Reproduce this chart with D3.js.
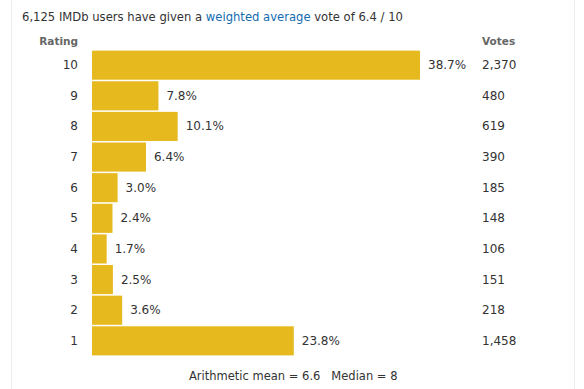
<!DOCTYPE html>
<html lang="en">
<head>
    <meta charset="UTF-8">
    <title>IMDb rating histogram</title>
    <script src="https://d3js.org/d3.v7.min.js"></script>
    <style>
        body { margin: 0; background: #fff; }
        text { font-family: Verdana, "DejaVu Sans", sans-serif; }
    </style>
</head>
<body>
    <svg id="chart" width="584" height="389"></svg>

    <script>
        // data
        const ratings = [10, 9, 8, 7, 6, 5, 4, 3, 2, 1];
        const votes = [2370, 480, 619, 390, 185, 148, 106, 151, 218, 1458];
        const percents = ["38.7%", "7.8%", "10.1%", "6.4%", "3.0%", "2.4%", "1.7%", "2.5%", "3.6%", "23.8%"];
        const totalVotes = "6,125";
        const weightedAvg = "6.4";
        const mean = "6.6";
        const median = "8";

        const rows = ratings.map((r, i) => ({ rating: r, votes: votes[i], pct: percents[i] }));

        const svg = d3.select("#chart");

        // faint page borders
        svg.append("line").attr("x1", 11.5).attr("x2", 11.5).attr("y1", 0).attr("y2", 389)
            .attr("stroke", "#ececec");
        svg.append("line").attr("x1", 574.5).attr("x2", 574.5).attr("y1", 0).attr("y2", 389)
            .attr("stroke", "#ececec");

        const x = d3.scaleLinear().domain([0, d3.max(votes)]).range([92, 420]);
        const y = d3.scaleBand().domain(ratings).range([50, 356]).paddingInner(0.05).paddingOuter(0.02);

        // title
        const title = svg.append("text").attr("x", 22).attr("y", 21)
            .attr("font-size", 11.6).attr("fill", "#333");
        title.append("tspan").text(totalVotes + " IMDb users have given a ");
        title.append("tspan").attr("fill", "#136cb2").text("weighted average");
        title.append("tspan").text(" vote of " + weightedAvg + " / 10");

        // headers
        svg.append("text").attr("x", 78).attr("y", 45).attr("text-anchor", "end")
            .attr("font-size", 10.5).attr("font-weight", "bold").attr("fill", "#666").text("Rating");
        svg.append("text").attr("x", 482).attr("y", 45)
            .attr("font-size", 10.5).attr("font-weight", "bold").attr("fill", "#666").text("Votes");

        const row = svg.selectAll("g.row").data(rows).enter().append("g").attr("class", "row");

        row.append("rect")
            .attr("x", x(0))
            .attr("y", d => y(d.rating))
            .attr("width", d => x(d.votes) - x(0))
            .attr("height", y.bandwidth())
            .attr("fill", "#e6b91e");

        const mid = d => y(d.rating) + y.bandwidth() / 2 + 4;

        row.append("text")
            .attr("x", 78).attr("y", mid).attr("text-anchor", "end")
            .attr("font-size", 12).attr("fill", "#333")
            .text(d => d.rating);

        row.append("text")
            .attr("x", d => x(d.votes) + 8).attr("y", mid)
            .attr("font-size", 12).attr("fill", "#333")
            .text(d => d.pct);

        row.append("text")
            .attr("x", 482).attr("y", mid)
            .attr("font-size", 12).attr("fill", "#333")
            .text(d => d3.format(",")(d.votes));

        // footer
        svg.append("text").attr("x", 189).attr("y", 380)
            .attr("font-size", 11.5).attr("fill", "#333")
            .attr("xml:space", "preserve")
            .text("Arithmetic mean = " + mean + "   Median = " + median);
    </script>
</body>
</html>
